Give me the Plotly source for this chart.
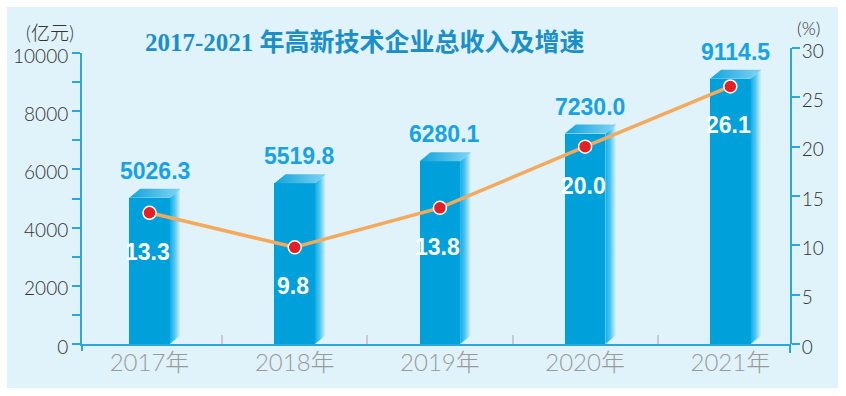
import plotly.graph_objects as go

# ---------------- data ----------------
years = ["2017年", "2018年", "2019年", "2020年", "2021年"]
revenue = [5026.3, 5519.8, 6280.1, 7230.0, 9114.5]          # 亿元
revenue_labels = ["5026.3", "5519.8", "6280.1", "7230.0", "9114.5"]
growth = [13.3, 9.8, 13.8, 20.0, 26.1]                        # %
growth_labels = ["13.3", "9.8", "13.8", "20.0", "26.1"]
left_ticks = [0, 2000, 4000, 6000, 8000, 10000]
left_tick_text = ["0", "2000", "4000", "6000", "8000", "10000"]
right_ticks = [0, 5, 10, 15, 20, 25, 30]
right_tick_text = ["0", "5", "10", "15", "20", "25", "30"]
title_text = "2017-2021 年高新技术企业总收入及增速"
left_unit = "(亿元)"
right_unit = "(%)"

# ---------------- geometry / style ----------------
W, H = 846, 396
ML, MR, MT, MB = 82, 56, 48, 52
PW = W - ML - MR
PH = H - MT - MB
XR = [-0.465, 4.411]
Y1_TOP_PX = 53
y1_dom_top = (H - MB - Y1_TOP_PX) / PH
Y1R = [0, 10000]
Y2R = [0, 30]

AXIS_C = "#2aa7dc"
FRONT_C = "#00a0da"
BG_C = "#e0f2fa"
BAR_W = 0.279
DEPTH_X = 11 * (XR[1] - XR[0]) / PW
DEPTH_Y = 9 * (Y1R[1] - Y1R[0]) / (y1_dom_top * PH)

LABEL_FONT = "Liberation Sans, Arial, sans-serif"
THIN = "Lato, Roboto, Noto Sans CJK SC, sans-serif"

xs = list(range(len(years)))

fig = go.Figure()

# front faces
fig.add_trace(go.Bar(
    x=xs, y=revenue, width=BAR_W, yaxis="y", xaxis="x",
    marker=dict(color=FRONT_C, line=dict(width=0)),
    hoverinfo="skip", showlegend=False,
))

# side and top faces (3D effect)
for xi, v in zip(xs, revenue):
    l = xi - BAR_W / 2
    r = xi + BAR_W / 2
    fig.add_trace(go.Scatter(
        x=[r, r, r + DEPTH_X, r + DEPTH_X, r],
        y=[0, v, v + DEPTH_Y, DEPTH_Y, 0],
        mode="lines", line=dict(width=0), fill="toself",
        fillgradient=dict(type="horizontal",
                          colorscale=[[0, "#0aaee9"], [0.45, "#52c6f2"], [1, "#e4f5fc"]]),
        yaxis="y", hoverinfo="skip", showlegend=False,
    ))
    fig.add_trace(go.Scatter(
        x=[l, r, r + DEPTH_X, l + DEPTH_X, l],
        y=[v, v, v + DEPTH_Y, v + DEPTH_Y, v],
        mode="lines", line=dict(width=0), fill="toself",
        fillgradient=dict(type="horizontal",
                          colorscale=[[0, "#12a3dc"], [1, "#7fd5f4"]]),
        yaxis="y", hoverinfo="skip", showlegend=False,
    ))

# growth line
fig.add_trace(go.Scatter(
    x=xs, y=growth, yaxis="y2", xaxis="x",
    mode="lines+markers",
    line=dict(color="#f5a95b", width=3.5),
    marker=dict(size=13, color="#e41f26", line=dict(color="white", width=1.5)),
    hoverinfo="skip", showlegend=False,
))

annotations = []
for xi, v, t in zip(xs, revenue, revenue_labels):
    annotations.append(dict(
        x=xi, y=v, xref="x", yref="y", text=t, showarrow=False,
        xanchor="center", yanchor="middle", xshift=5, yshift=27,
        font=dict(family=LABEL_FONT, size=23, color="#17a2e6", weight="bold"),
    ))
for xi, g, t in zip(xs, growth, growth_labels):
    annotations.append(dict(
        x=xi, y=g, xref="x", yref="y2", text=t, showarrow=False,
        xanchor="center", yanchor="middle", xshift=-2, yshift=-39,
        font=dict(family=LABEL_FONT, size=23, color="white", weight="bold"),
    ))

# title and units
annotations.append(dict(
    x=(364.5 - ML) / PW, y=(H - MB - 42.5) / PH, xref="paper", yref="paper",
    text=title_text, showarrow=False, xanchor="center", yanchor="middle",
    font=dict(family="Liberation Serif, Noto Sans CJK SC, serif", size=25,
              color="#1b8fc7", weight="bold"),
))
annotations.append(dict(
    x=(50 - ML) / PW, y=(H - MB - 32) / PH, xref="paper", yref="paper",
    text=left_unit, showarrow=False, xanchor="center", yanchor="middle",
    font=dict(family=THIN, size=19, color="#333333", weight=300),
))
annotations.append(dict(
    x=(808 - ML) / PW, y=(H - MB - 28) / PH, xref="paper", yref="paper",
    text=right_unit, showarrow=False, xanchor="center", yanchor="middle",
    font=dict(family=THIN, size=18, color="#333333", weight=300),
))

shapes = [
    dict(type="rect", xref="paper", yref="paper", layer="below",
         x0=(7 - ML) / PW, x1=(838 - ML) / PW,
         y0=(H - MB - 388) / PH, y1=(H - MB - 7) / PH,
         fillcolor=BG_C, line=dict(width=0)),
    dict(type="line", xref="paper", yref="paper", x0=0, x1=0, y0=-7 / PH, y1=0,
         line=dict(color=AXIS_C, width=2)),
    dict(type="line", xref="paper", yref="paper", x0=1, x1=1, y0=-9 / PH, y1=0,
         line=dict(color=AXIS_C, width=2)),
]

fig.update_layout(
    width=W, height=H,
    margin=dict(l=ML, r=MR, t=MT, b=MB, pad=0, autoexpand=False),
    paper_bgcolor="white", plot_bgcolor="rgba(0,0,0,0)",
    showlegend=False, bargap=0,
    annotations=annotations, shapes=shapes,
    xaxis=dict(
        range=XR, tickmode="array", tickvals=xs, ticktext=years,
        ticks="", showline=True, linecolor=AXIS_C, linewidth=2,
        showgrid=False, zeroline=False, automargin=False,
        tickfont=dict(family=THIN, size=24, color="#9a9a9a", weight=300),
        ticklabelstandoff=-4,
        minor=dict(tickmode="array", tickvals=[x + 0.5 for x in xs[:-1]],
                   ticks="inside", ticklen=9, tickwidth=1.5, tickcolor="#c3cbd3"),
        fixedrange=True,
    ),
    yaxis=dict(
        domain=[0, y1_dom_top], range=Y1R, anchor="x",
        tickmode="array", tickvals=left_ticks, ticktext=left_tick_text,
        ticks="outside", ticklen=8, tickwidth=2, tickcolor=AXIS_C,
        showline=True, linecolor=AXIS_C, linewidth=2,
        showgrid=False, zeroline=False, automargin=False,
        minor=dict(dtick=1000, tick0=0, ticks="outside", ticklen=8,
                   tickwidth=2, tickcolor=AXIS_C, showgrid=False),
        tickfont=dict(family=THIN, size=19, color="#333333", weight=300),
        ticklabelshift=3,
        fixedrange=True,
    ),
    yaxis2=dict(
        domain=[0, 1], range=Y2R, anchor="x", side="right",
        tickmode="array", tickvals=right_ticks, ticktext=right_tick_text,
        ticks="outside", ticklen=8, tickwidth=2, tickcolor=AXIS_C,
        showline=True, linecolor=AXIS_C, linewidth=2,
        showgrid=False, zeroline=False, automargin=False,
        tickfont=dict(family=THIN, size=19, color="#333333", weight=300),
        ticklabelshift=3, ticklabelstandoff=-2,
        fixedrange=True,
    ),
)

fig.write_html(
    "out.html",
    config={"displayModeBar": False},
    post_script="document.body.style.margin='0';document.body.style.padding='0';",
)
